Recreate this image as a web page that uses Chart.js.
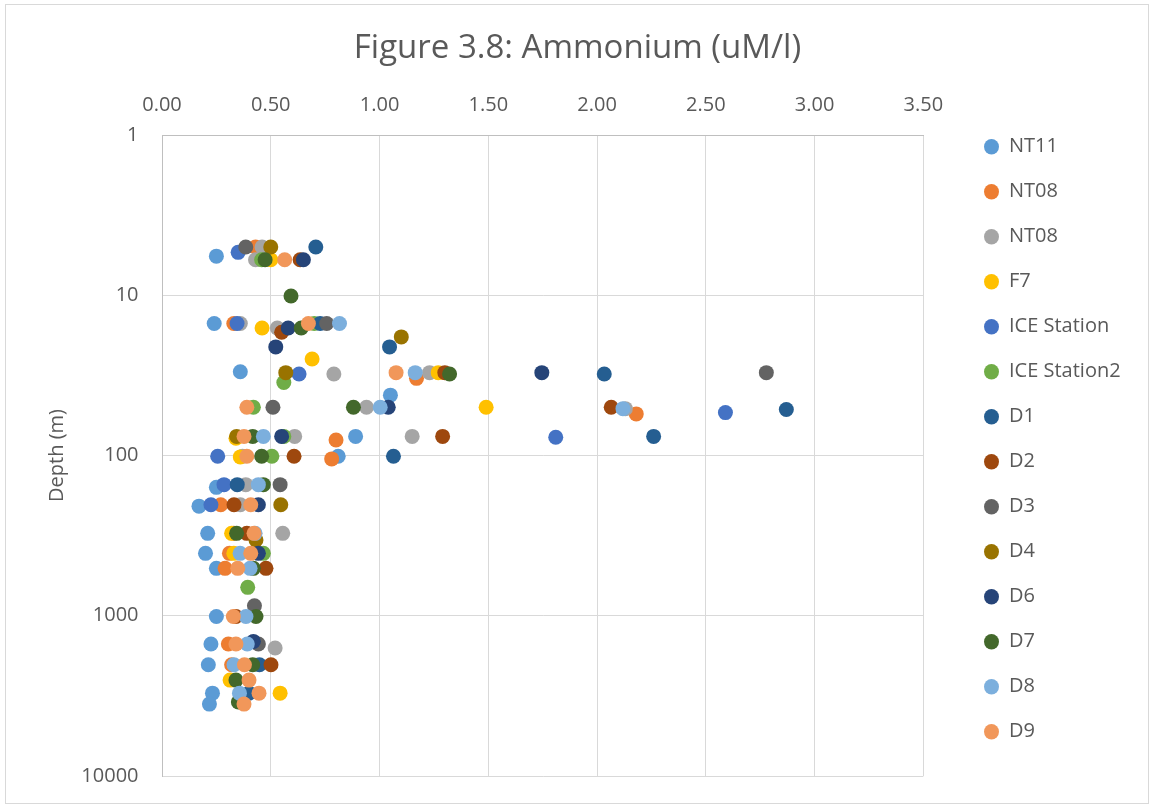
<!DOCTYPE html>
<html>
<head>
<meta charset="utf-8">
<title>Figure 3.8: Ammonium (uM/l)</title>
<script src="https://cdn.jsdelivr.net/npm/chart.js@4.4.0/dist/chart.umd.min.js"></script>
<style>
  html, body { margin: 0; padding: 0; background: #fff; }
  #wrap { position: relative; width: 1152px; height: 805px; }
  #frame { position: absolute; left: 5px; top: 4px; width: 1144px; height: 800px;
           box-sizing: border-box; border: 1px solid #d9d9d9; pointer-events: none; }
</style>
</head>
<body>
<div id="wrap">
  <canvas id="nh4Chart" width="1152" height="805"></canvas>
  <div id="frame"></div>
</div>
<script>
// station names as in the legend (NT08 appears twice in the original)
const seriesNames = ['NT11', 'NT08', 'NT08', 'F7', 'ICE Station', 'ICE Station2',
  'D1', 'D2', 'D3', 'D4', 'D6', 'D7', 'D8', 'D9'];
const seriesColors = ['#5B9BD5', '#ED7D31', '#A5A5A5', '#FFC000', '#4472C4', '#70AD47',
  '#255E91', '#9E480E', '#636363', '#997300', '#264478', '#43682B', '#7CAFDD', '#F1975A'];

// [ammonium (uM/l), depth (m)]
const NT11 = [[0.25, 5.7], [0.24, 15], [0.36, 30], [1.05, 42], [0.89, 76], [0.81, 101],
  [0.25, 158], [0.17, 207], [0.21, 306], [0.20, 408], [0.25, 506], [0.25, 1010],
  [0.225, 1500], [0.213, 2020], [0.232, 3040], [0.218, 3560]];
const NT08a = [[0.43, 5.0], [0.33, 15], [1.17, 33], [2.18, 55], [0.80, 80], [0.78, 105],
  [0.27, 203], [0.33, 306], [0.31, 408], [0.29, 506], [0.305, 1500], [0.32, 2020]];
const NT08b = [[0.46, 5.0], [0.43, 6.0], [0.36, 15], [0.53, 16], [0.79, 31], [1.23, 30.4],
  [0.94, 50], [2.13, 51], [0.61, 76], [1.15, 76], [0.37, 101], [0.385, 152], [0.36, 203],
  [0.555, 306], [0.52, 1590]];
const F7 = [[0.50, 6.0], [0.46, 16], [0.69, 25], [1.27, 30.4], [1.49, 50], [0.34, 78],
  [0.36, 102], [0.32, 306], [0.33, 408], [0.313, 2520], [0.543, 3040]];
const ICE = [[0.35, 5.4], [0.345, 15], [0.63, 31], [2.59, 54], [1.81, 77], [0.256, 101],
  [0.285, 152], [0.225, 203]];
const ICE2 = [[0.458, 6.0], [0.70, 15], [0.56, 35], [0.42, 50], [0.56, 76], [0.505, 101],
  [0.466, 408], [0.394, 665]];
const D1 = [[0.707, 5.0], [0.727, 15], [1.046, 21], [2.033, 31], [2.87, 51.6], [2.26, 76],
  [1.064, 101], [0.346, 152], [0.448, 2020], [0.40, 3040]];
const D2 = [[0.635, 6.0], [0.55, 17], [1.30, 30.4], [2.065, 50], [1.29, 76], [0.607, 101],
  [0.331, 203], [0.39, 306], [0.478, 506], [0.34, 1010], [0.501, 2020]];
const D3 = [[0.385, 5.0], [0.757, 15], [2.778, 30.4], [0.51, 50], [0.543, 152], [0.425, 866],
  [0.443, 1500]];
const D4 = [[0.50, 5.0], [1.10, 18.2], [0.569, 30.4], [0.343, 76], [0.546, 203], [0.432, 337]];
const D6 = [[0.65, 6.0], [0.58, 16], [0.523, 21], [1.746, 30.4], [1.04, 50], [0.55, 76],
  [0.443, 203], [0.443, 408], [0.42, 1446]];
const D7 = [[0.474, 6.0], [0.593, 10.1], [0.64, 16], [1.322, 31], [0.88, 50], [0.417, 76],
  [0.458, 101], [0.466, 152], [0.343, 306], [0.42, 506], [0.432, 1010], [0.417, 2020],
  [0.34, 2520], [0.351, 3450]];
const D8 = [[0.816, 15], [1.164, 30.4], [1.003, 50], [2.119, 51], [0.466, 76], [0.443, 152],
  [0.428, 306], [0.359, 408], [0.405, 506], [0.386, 1010], [0.392, 1500], [0.331, 2020],
  [0.356, 3040]];
const D9 = [[0.564, 6.0], [0.673, 15], [1.076, 30.4], [0.39, 50], [0.377, 76], [0.39, 101],
  [0.408, 203], [0.423, 306], [0.408, 408], [0.348, 506], [0.328, 1010], [0.34, 1500],
  [0.379, 2020], [0.40, 2520], [0.446, 3040], [0.377, 3560]];

const seriesData = [NT11, NT08a, NT08b, F7, ICE, ICE2, D1, D2, D3, D4, D6, D7, D8, D9];

const depthTicks = [1, 10, 100, 1000, 10000];
const ammoniumTicks = [0, 0.5, 1, 1.5, 2, 2.5, 3, 3.5];

const textColor = '#595959';
const fontFamily = "'Open Sans', 'Noto Sans', sans-serif";

// excel draws later series on top, chart.js draws low "order" on top
const datasets = seriesData.map((pts, i) => ({
  label: seriesNames[i],
  data: pts.map(p => ({ x: p[0], y: p[1] })),
  backgroundColor: seriesColors[i],
  borderColor: seriesColors[i],
  pointRadius: 7.5,
  pointHoverRadius: 7.5,
  pointBorderWidth: 0,
  borderWidth: 0,
  order: seriesData.length - i
}));

// put the legend and title where excel had them
const boxPlace = {
  id: 'boxPlace',
  afterLayout(chart) {
    const lg = chart.legend;
    const w = lg.width;
    lg.left = 959;
    lg.right = lg.left + w;
    lg.top = 111.7;
    lg.bottom = 805;
    const tb = chart.titleBlock;
    tb.left = 0;
    tb.right = 1155;
    tb.width = 1155;
  }
};

new Chart(document.getElementById('nh4Chart'), {
  type: 'scatter',
  data: { datasets: datasets },
  plugins: [boxPlace],
  options: {
    responsive: false,
    animation: false,
    devicePixelRatio: 1,
    layout: { autoPadding: false, padding: { left: 0, top: 0, right: 57, bottom: 29 } },
    plugins: {
      title: {
        display: true,
        text: 'Figure 3.8: Ammonium (uM/l)',
        color: textColor,
        font: { family: fontFamily, size: 33, weight: 'normal' },
        padding: { top: 29, bottom: 0 }
      },
      legend: {
        position: 'right',
        align: 'start',
        reverse: true,
        labels: {
          usePointStyle: true,
          pointStyle: 'circle',
          pointStyleWidth: 15,
          boxHeight: 11,
          padding: 25,
          color: textColor,
          font: { family: fontFamily, size: 20 }
        }
      },
      tooltip: { enabled: false }
    },
    scales: {
      x: {
        type: 'linear',
        position: 'top',
        min: 0,
        max: 3.5,
        afterBuildTicks: s => { s.ticks = ammoniumTicks.map(v => ({ value: v })); },
        afterFit: s => { s.height = 66.4; },
        ticks: {
          padding: 18,
          color: textColor,
          font: { family: fontFamily, size: 20 },
          callback: v => Number(v).toFixed(2)
        },
        grid: { color: '#d9d9d9', drawTicks: false },
        border: { color: '#bfbfbf' }
      },
      y: {
        type: 'logarithmic',
        reverse: true,
        min: 1,
        max: 10000,
        afterBuildTicks: s => { s.ticks = depthTicks.map(v => ({ value: v })); },
        afterFit: s => {
          s.width = 162;
          s.paddingTop = 0;
          s.paddingBottom = 0;
        },
        title: {
          display: true,
          text: 'Depth (m)',
          color: textColor,
          font: { family: fontFamily, size: 20 },
          padding: { top: 45, bottom: 0 }
        },
        ticks: {
          padding: 23.5,
          color: textColor,
          font: { family: fontFamily, size: 20 },
          callback: v => String(v)
        },
        grid: { color: '#d9d9d9', drawTicks: false },
        border: { color: '#bfbfbf' }
      }
    }
  }
});
</script>
</body>
</html>
